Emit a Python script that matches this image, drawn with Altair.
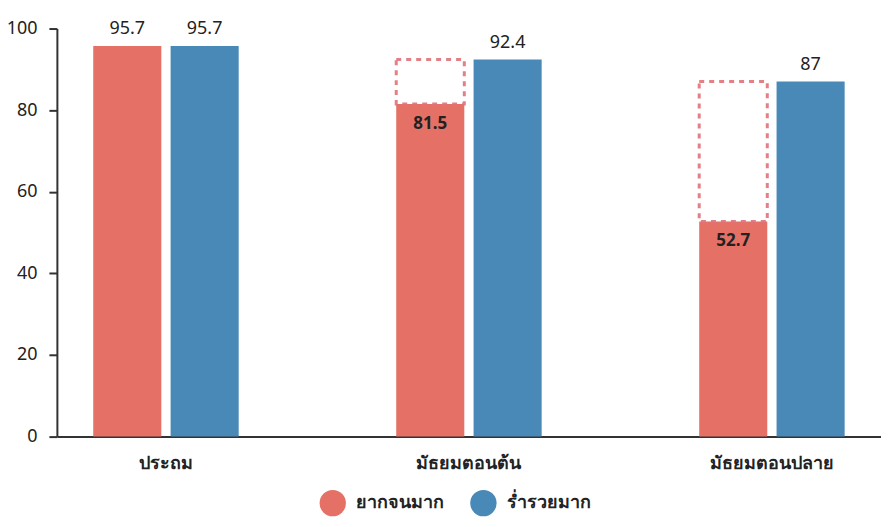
import altair as alt
import pandas as pd

categories = ["ประถม", "มัธยมตอนต้น", "มัธยมตอนปลาย"]
series = ["ยากจนมาก", "ร่ำรวยมาก"]
poor_values = [95.7, 81.5, 52.7]
rich_values = [95.7, 92.4, 87]

RED = "#E57166"
BLUE = "#4889B7"
FONT = "Noto Sans"

rows = []
for c, p, r in zip(categories, poor_values, rich_values):
    rows.append({"category": c, "series": series[0], "value": p})
    rows.append({"category": c, "series": series[1], "value": r})
df = pd.DataFrame(rows)

gap = pd.DataFrame(
    [{"category": c, "series": series[0], "low": p, "high": r}
     for c, p, r in zip(categories, poor_values, rich_values) if r > p]
)

x = alt.X("category:N", sort=categories,
          scale=alt.Scale(paddingInner=0.52, paddingOuter=0.12),
          axis=alt.Axis(title=None, labelAngle=0, ticks=False, labelFontSize=18,
                        labelFontWeight="bold", labelPadding=18, labelColor="#222",
                        domainColor="#333", domainWidth=2, labelFont=FONT))
xo = alt.XOffset("series:N", sort=series, scale=alt.Scale(paddingInner=0.12))

bars = alt.Chart(df).mark_bar().encode(
    x=x,
    xOffset=xo,
    y=alt.Y("value:Q", scale=alt.Scale(domain=[0, 100]),
            axis=alt.Axis(title=None, values=[0, 20, 40, 60, 80, 100], grid=False,
                          labelFontSize=18, labelColor="#222", tickColor="#333",
                          tickWidth=2, tickSize=8, domainColor="#333", domainWidth=2,
                          labelPadding=12, labelFont=FONT)),
    color=alt.Color("series:N", sort=series,
                    scale=alt.Scale(domain=series, range=[RED, BLUE]),
                    legend=alt.Legend(title=None, orient="none", direction="horizontal",
                                      legendX=263, legendY=462,
                                      symbolType="circle", symbolSize=700,
                                      labelFontSize=18, labelFontWeight="bold",
                                      labelColor="#222", columnPadding=26, labelOffset=10,
                                      symbolStrokeWidth=0, labelFont=FONT)),
)

gapbox = alt.Chart(gap).mark_bar(
    fill="transparent", stroke="#E0737A", strokeDash=[5, 5], strokeWidth=3, opacity=0.9
).encode(
    x=x, xOffset=xo,
    y=alt.Y("low:Q"), y2="high:Q",
)

base_text = alt.Chart(df).transform_joinaggregate(
    maxv="max(value)", groupby=["category"]
)

above = base_text.transform_filter("datum.value >= datum.maxv").mark_text(
    baseline="bottom", dy=-8, fontSize=18, color="#222", font=FONT
).encode(x=x, xOffset=xo, y="value:Q", text=alt.Text("value:Q"))

inside = base_text.transform_filter("datum.value < datum.maxv").mark_text(
    baseline="top", dy=12, fontSize=17, fontWeight="bold", color="#222", font=FONT
).encode(x=x, xOffset=xo, y="value:Q", text=alt.Text("value:Q"))

chart = alt.layer(bars, gapbox, above, inside).properties(
    width=826, height=409,
    padding={"left": 49, "top": 20, "right": 0, "bottom": 82},
    autosize=alt.AutoSizeParams(type="none"),
).configure_view(stroke=None)

chart.save("out.html", embed_options={"renderer": "svg", "actions": False})
